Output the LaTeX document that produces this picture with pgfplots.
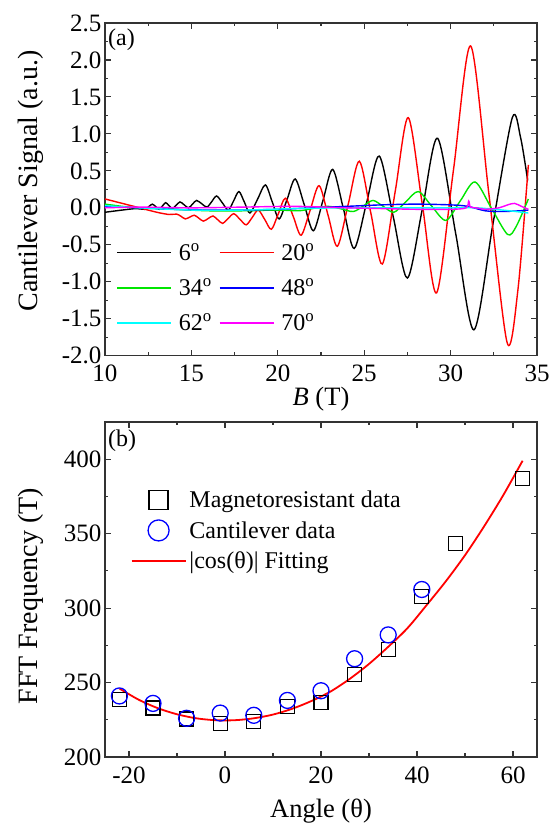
\documentclass[border=0pt]{standalone}
\usepackage{fontspec}
\setmainfont{Liberation Serif}
\usepackage{pgfplots}
\pgfplotsset{compat=1.18}
\definecolor{axgray}{HTML}{333333}
\definecolor{cgreen}{HTML}{00E600}
\definecolor{cblue}{HTML}{0000FF}
\definecolor{ccyan}{HTML}{00FFFF}
\definecolor{cmag}{HTML}{FF00FF}
\pgfplotsset{
  panel/.style={
    scale only axis,
    width=432pt,
    axis line style={axgray, line width=1.3pt},
    tick style={axgray, line width=1.1pt},
    tick align=inside,
    major tick length=6pt,
    minor tick length=3.5pt,
    minor tick num=1,
    tick label style={font=\fontsize{25}{29}\selectfont},
    xticklabel style={yshift=-6pt},
    xlabel style={font=\fontsize{26.5}{30}\selectfont},
    ylabel style={font=\fontsize{28}{32}\selectfont},
    /pgf/number format/assume math mode=true,
    legend cell align=left,
  },
}

\begin{document}
\begin{tikzpicture}
\useasboundingbox (0,0) rectangle (553pt,825pt);

% (a) cantilever signal
\begin{axis}[
  panel,
  at={(105pt,469.3pt)}, anchor=south west,
  height=332.7pt,
  xmin=10, xmax=35, ymin=-2, ymax=2.5,
  xtick={10,15,20,25,30,35},
  ytick={-2,-1.5,-1,-0.5,0,0.5,1,1.5,2,2.5},
  yticklabel style={/pgf/number format/.cd, fixed, fixed zerofill, precision=1},
  xlabel={\textit{B} (T)},
  ylabel={Cantilever Signal (a.u.)},
  xlabel style={at={(axis description cs:0.5,-0.13)}, anchor=center},
  ylabel style={at={(axis description cs:-0.171,0.525)}, anchor=center},
  legend columns=2,
  legend image code/.code={\draw[#1, line width=1.6pt] (0pt,0pt) -- (54pt,0pt);},
  legend style={at={(axis description cs:0.0255,0.345)}, anchor=north west,
    draw=none, fill=none, inner sep=0pt, font=\fontsize{24}{28}\selectfont,
    nodes={inner xsep=2pt}, column sep=5pt, row sep=13pt},
  every axis plot/.append style={line width=1.4pt},
]
\addplot[black, smooth] coordinates {
 (10.0,-0.06) (11.0,-0.03) (11.8,-0.01) (12.31,-0.02) (12.525,0.015) (12.74,0.05)
 (12.94,0.015) (13.14,-0.02) (13.325,0.025) (13.51,0.07) (13.705,0.03) (13.90,-0.01)
 (14.12,0.035) (14.34,0.08) (14.585,0.04) (14.83,0.0) (15.065,0.05) (15.30,0.10)
 (15.60,0.055) (15.90,0.01) (16.18,0.085) (16.46,0.16) (16.80,0.065) (17.14,-0.03)
 (17.445,0.095) (17.75,0.22) (18.07,0.075) (18.39,-0.07) (18.835,0.12) (19.28,0.31)
 (19.68,0.08) (20.08,-0.15) (20.545,0.12) (21.01,0.39) (21.535,0.04) (22.06,-0.31)
 (22.62,0.105) (23.18,0.52) (23.80,-0.015) (24.42,-0.55) (25.145,0.075) (25.87,0.70)
 (26.685,-0.125) (27.5,-0.95) (28.375,-0.005) (29.25,0.94) (30.30,-0.355) (31.35,-1.65)
 (32.46,-0.205) (33.57,1.22) (34.05,0.95) (34.46,0.37)
};
\addlegendentry{6\textsuperscript{o}}
\addplot[red, smooth] coordinates {
 (10,0.12) (11,0.06) (12,0.0) (13,-0.06) (13.7,-0.09) (14.15,-0.085) (14.4,-0.115)
 (14.65,-0.15) (14.91,-0.125) (15.17,-0.10) (15.43,-0.14) (15.69,-0.18) (15.97,-0.145)
 (16.25,-0.11) (16.52,-0.16) (16.8,-0.21) (17.12,-0.145) (17.45,-0.08) (17.81,-0.155)
 (18.17,-0.23) (18.52,-0.13) (18.87,-0.03) (19.25,-0.16) (19.63,-0.29) (20.03,-0.08)
 (20.44,0.13) (20.9,-0.12) (21.35,-0.37) (21.87,-0.035) (22.39,0.30) (22.92,-0.11)
 (23.45,-0.52) (24.08,0.055) (24.72,0.63) (25.38,-0.065) (26.05,-0.76) (26.8,0.23)
 (27.55,1.22) (28.37,0.035) (29.19,-1.15) (30.17,0.52) (31.16,2.19) (32.22,0.18)
 (33.28,-1.83) (33.9,-1.1) (34.5,0.58)
};
\addlegendentry{20\textsuperscript{o}}
\addplot[cgreen, smooth] coordinates {
 (10,0.05) (11,0.02) (12,0.0) (14,-0.02) (16,-0.04) (18,-0.04) (20,-0.03) (21.2,-0.04)
 (22.0,-0.01) (22.9,0.02) (23.6,-0.01) (24.37,-0.05) (24.95,0.025) (25.51,0.10)
 (26.1,0.02) (26.72,-0.06) (27.4,0.08) (28.13,0.22) (28.9,0.025) (29.73,-0.17)
 (30.55,0.09) (31.41,0.35) (32.35,0.0) (33.30,-0.36) (33.8,-0.25) (34.5,0.12)
};
\addlegendentry{34\textsuperscript{o}}
\addplot[cblue, smooth] coordinates {
 (10,0.02) (12,0.0) (14,-0.02) (16,-0.03) (18,-0.03) (20,-0.02) (22,0.0) (24,0.02)
 (26,0.04) (28,0.05) (30,0.04) (31,0.02) (32,-0.04) (33,-0.05) (34,-0.04) (34.5,-0.03)
};
\addlegendentry{48\textsuperscript{o}}
\addplot[ccyan, smooth] coordinates {
 (10,0.03) (12,0.0) (15,-0.03) (18,-0.03) (21,-0.01) (24,0.0) (27,0.0) (30,0.0)
 (31.5,0.0) (33,-0.03) (34.5,-0.07)
};
\addlegendentry{62\textsuperscript{o}}
\addplot[cmag, smooth] coordinates {
 (10,0.0) (12,0.01) (15,0.0) (18,0.01) (21,0.02) (24,0.0) (26,-0.01) (28,-0.02)
 (30,-0.02) (30.9,0.0) (31.05,0.09) (31.15,0.01) (31.5,0.0) (32.0,-0.02) (32.8,0.0)
 (33.3,0.04) (33.7,0.06) (34.1,0.02) (34.5,-0.02)
};
\addlegendentry{70\textsuperscript{o}}
\node[anchor=north west, inner sep=3pt, yshift=-3pt, font=\fontsize{24}{28}\selectfont]
  at (axis description cs:0,1) {(a)};
\end{axis}

% (b) FFT frequency vs angle
\begin{axis}[
  panel,
  at={(105pt,68pt)}, anchor=south west,
  height=335pt,
  xmin=-25, xmax=65, ymin=200, ymax=425,
  xtick={-20,0,20,40,60},
  ytick={200,250,300,350,400},
  xlabel={Angle (θ)},
  ylabel={FFT Frequency (T)},
  xlabel style={at={(axis description cs:0.5,-0.16)}, anchor=center},
  ylabel style={at={(axis description cs:-0.171,0.48)}, anchor=center},
  legend image code/.code={
    \draw[mark repeat=2,mark phase=2,#1] plot coordinates {(0pt,0pt) (27pt,0pt) (54pt,0pt)};
  },
  legend style={at={(axis description cs:0.059,0.80)}, anchor=north west,
    draw=none, fill=none, inner sep=0pt, font=\fontsize{24}{28}\selectfont,
    nodes={inner xsep=3pt}, row sep=8pt},
]
\addplot[only marks, mark=square, black, mark size=7pt, line width=1.3pt,
  legend image post style={mark size=9.5pt}] coordinates {
 (-22,238.5) (-15,233) (-8,225.6) (-1,222.5) (6,224) (13,234) (20,236.5)
 (27,255.4) (34,272) (41,308) (48,343.4) (62,387.2)
};
\addlegendentry{Magnetoresistant data}
\addplot[only marks, mark=o, cblue, mark size=8pt, line width=1.3pt,
  legend image post style={mark size=10.5pt}] coordinates {
 (-22,241) (-15,236) (-8,226) (-1,229.5) (6,228) (13,238) (20,244.5)
 (27,266) (34,282) (41,312.5)
};
\addlegendentry{Cantilever data}
\addplot[red, line width=1.8pt, smooth] coordinates {
 (-22,246) (-18,238.5) (-14,232.8) (-10,228.7) (-6,226) (-2,224.7) (2,224.7) (6,226)
 (10,228.5) (14,232.4) (18,237.6) (22,244) (26,252.5) (30,262.5) (34,274) (38,286.5)
 (42,302) (46,318) (50,335.5) (54,355) (58,376) (62,399)
};
\addlegendentry{|cos(θ)| Fitting}
\node[anchor=north west, inner sep=3pt, yshift=-5pt, font=\fontsize{24}{28}\selectfont]
  at (axis description cs:0,1) {(b)};
\end{axis}
\end{tikzpicture}
\end{document}
